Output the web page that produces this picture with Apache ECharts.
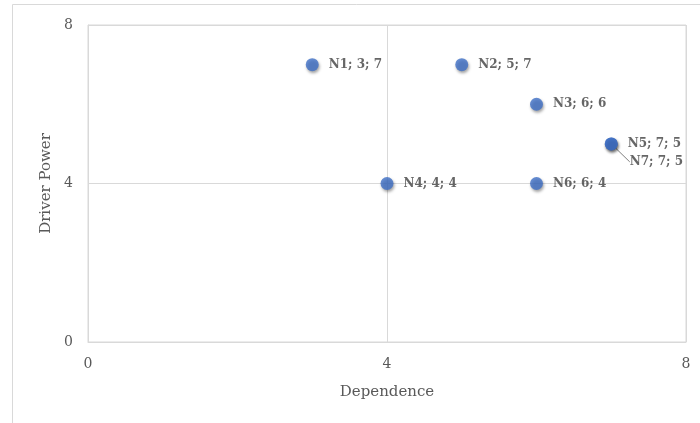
<!DOCTYPE html>
<html>
<head>
<meta charset="utf-8">
<script src="https://cdn.jsdelivr.net/npm/echarts@6/dist/echarts.min.js"></script>
<style>
  html, body { margin: 0; padding: 0; background: #fff; }
  #chart { width: 700px; height: 423px; }
</style>
</head>
<body>
<div id="chart"></div>
<script>
// Dependence vs. driver power of each node
const nodeNames = ['N1', 'N2', 'N3', 'N4', 'N5', 'N6', 'N7'];
const dependence = [3, 5, 6, 4, 7, 6, 7];
const driverPower = [7, 7, 6, 4, 5, 4, 5];
const axisTicks = [0, 4, 8];

const serif = 'Georgia, "DejaVu Serif", "Liberation Serif", serif';
const gridColor = '#d9d9d9';
const textColor = '#595959';

// N7 shares its spot with N5: its label goes below, tied back by a leader line
const points = nodeNames.map((n, i) => {
  const item = { name: n, value: [dependence[i], driverPower[i]] };
  if (n === 'N7') item.labelLine = { show: true };
  return item;
});

const chart = echarts.init(document.getElementById('chart'));
chart.setOption({
  animation: false,
  graphic: [{
    type: 'rect',
    shape: { x: 12.5, y: 4.5, width: 720, height: 440 },
    style: { fill: 'none', stroke: gridColor, lineWidth: 1 },
    silent: true
  }],
  grid: { left: 88, right: 14, top: 25, bottom: 81, show: true, borderColor: gridColor, borderWidth: 1 },
  xAxis: {
    type: 'value',
    min: axisTicks[0], max: axisTicks[axisTicks.length - 1], interval: axisTicks[1] - axisTicks[0],
    name: 'Dependence', nameLocation: 'middle', nameGap: 43,
    nameTextStyle: { fontFamily: serif, fontSize: 15, color: textColor },
    axisLine: { show: true, lineStyle: { color: gridColor } },
    axisTick: { show: false },
    axisLabel: { fontFamily: serif, fontSize: 14, color: textColor, margin: 15 },
    splitLine: { show: true, lineStyle: { color: gridColor, width: 1 } }
  },
  yAxis: {
    type: 'value',
    min: axisTicks[0], max: axisTicks[axisTicks.length - 1], interval: axisTicks[1] - axisTicks[0],
    name: 'Driver Power', nameLocation: 'middle', nameGap: 34,
    nameTextStyle: { fontFamily: serif, fontSize: 15, color: textColor },
    axisLine: { show: true, lineStyle: { color: gridColor } },
    axisTick: { show: false },
    axisLabel: { fontFamily: serif, fontSize: 14, color: textColor, margin: 15 },
    splitLine: { show: true, lineStyle: { color: gridColor, width: 1 } }
  },
  series: [{
    type: 'scatter',
    symbol: 'circle',
    symbolSize: 13,
    itemStyle: {
      color: '#3F6FC6',
      shadowColor: 'rgba(0,0,0,0.45)',
      shadowBlur: 3,
      shadowOffsetX: 1,
      shadowOffsetY: 2
    },
    label: {
      show: true,
      position: 'right',
      distance: 10,
      fontFamily: serif,
      fontWeight: 'bold',
      fontSize: 12,
      color: '#404040',
      formatter: p => p.name + '; ' + p.value[0] + '; ' + p.value[1]
    },
    labelLayout: p => (nodeNames[p.dataIndex] === 'N7' ? { dx: 2, dy: 18 } : {}),
    labelLine: { show: false, lineStyle: { color: '#7f7f7f', width: 1 } },
    data: points
  }]
});
</script>
</body>
</html>
